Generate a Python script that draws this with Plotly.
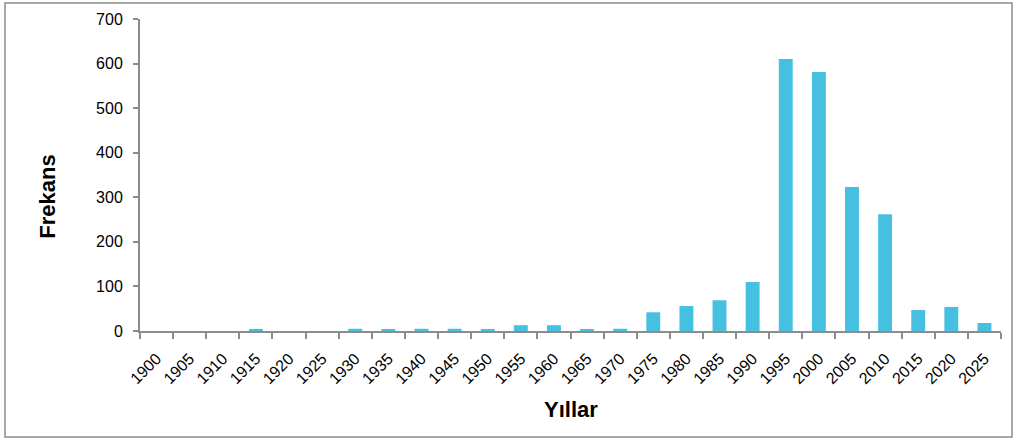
import plotly.graph_objects as go

# Data
years = [str(y) for y in range(1900, 2030, 5)]
freq = [0, 0, 0, 3, 0, 0, 5, 3, 5, 5, 3, 13, 13, 3, 5,
        42, 56, 69, 110, 610, 581, 323, 262, 47, 54, 18]

axis_col = "#8c8c8c"
font = "Liberation Sans, Arial, sans-serif"

fig = go.Figure(go.Bar(
    x=years, y=freq,
    marker=dict(color="#45C0E0", line=dict(width=0)),
    width=0.42,
))

fig.update_layout(
    width=1016, height=441,
    margin=dict(l=140, r=15, t=19, b=110, autoexpand=False),
    plot_bgcolor="white", paper_bgcolor="white",
    showlegend=False,
    font=dict(family=font, size=16, color="#000"),
    xaxis=dict(
        type="category", tickangle=-45, tickson="boundaries",
        showline=True, linecolor=axis_col, linewidth=2,
        ticks="outside", ticklen=6, tickwidth=2, tickcolor=axis_col,
        showgrid=False, zeroline=False, automargin=False,
        tickfont=dict(size=16, family=font), ticklabelstandoff=10,
    ),
    yaxis=dict(
        range=[0, 700], dtick=100,
        showline=True, linecolor=axis_col, linewidth=2,
        ticks="outside", ticklen=5, tickwidth=2, tickcolor=axis_col,
        showgrid=False, zeroline=False, automargin=False,
        tickfont=dict(size=16, family=font), ticklabelstandoff=7,
    ),
)

# axis titles
fig.add_annotation(text="<b>Frekans</b>", x=-0.107, y=0.43, xref="paper", yref="paper",
                   xanchor="center", yanchor="middle",
                   textangle=-90, showarrow=False, font=dict(size=22, family=font))
fig.add_annotation(text="<b>Yıllar</b>", x=0.5006, y=-0.253, xref="paper", yref="paper",
                   xanchor="center", yanchor="middle",
                   showarrow=False, font=dict(size=22, family=font))

# outer border
fig.add_shape(type="rect", xref="paper", yref="paper",
              x0=-0.1568, x1=1.0128, y0=-0.3397, y1=1.0513,
              line=dict(color="#8c8c8c", width=1.5))

fig.write_html("out.html", config={"displayModeBar": False},
               post_script="document.body.style.margin='0';")
